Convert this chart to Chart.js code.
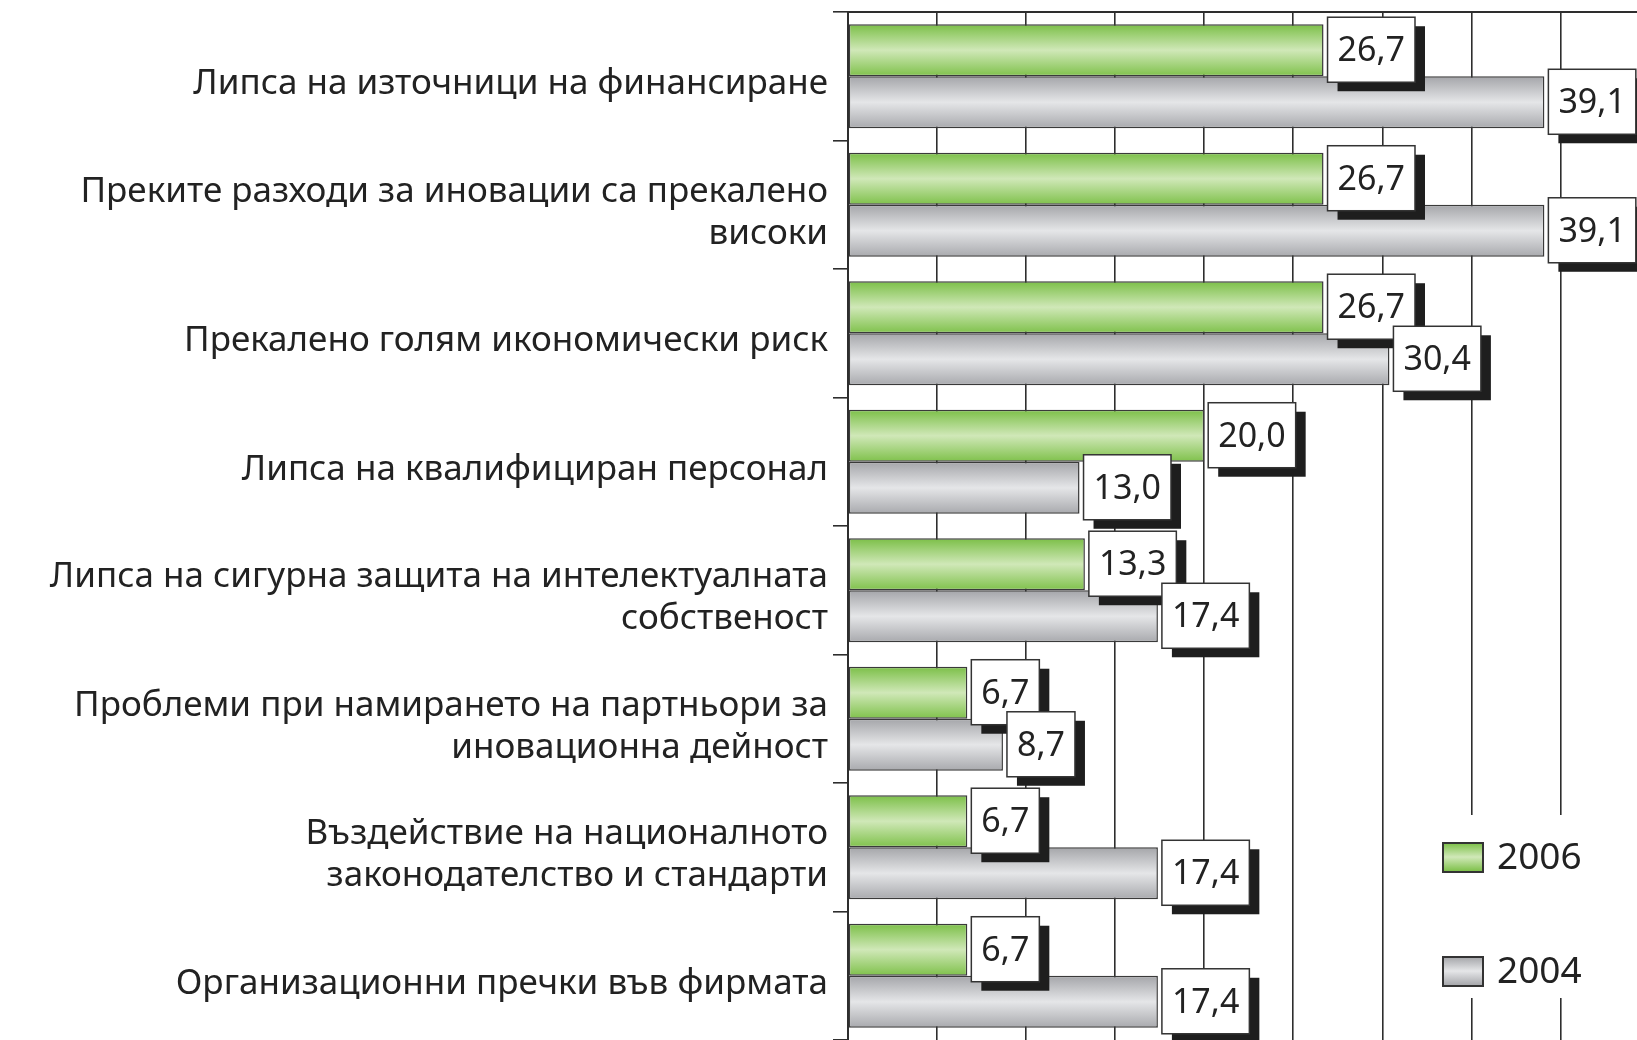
<!DOCTYPE html>
<html lang="bg">
<head>
<meta charset="utf-8">
<script src="https://cdn.jsdelivr.net/npm/chart.js@4.4.1/dist/chart.umd.min.js"></script>
<style>
  html, body { margin: 0; padding: 0; background: #fff; }
  #wrap { width: 1637px; height: 1040px; position: relative; }
</style>
</head>
<body>
<div id="wrap"><canvas id="chart" lang="bg"></canvas></div>
<script>
// Data
const categories = [
  "Липса на източници на финансиране",
  ["Преките разходи за иновации са прекалено", "високи"],
  "Прекалено голям икономически риск",
  "Липса на квалифициран персонал",
  ["Липса на сигурна защита на интелектуалната", "собственост"],
  ["Проблеми при намирането на партньори за", "иновационна дейност"],
  ["Въздействие на националното", "законодателство и стандарти"],
  "Организационни пречки във фирмата"
]
const values2006 = [26.7, 26.7, 26.7, 20.0, 13.3, 6.7, 6.7, 6.7]
const values2004 = [39.1, 39.1, 30.4, 13.0, 17.4, 8.7, 17.4, 17.4]
const seriesNames = ["2006", "2004"]
const gridTicks = [0, 5, 10, 15, 20, 25, 30, 35, 40]

const FONT = "'Noto Sans', 'Open Sans', sans-serif"
const CAT_PCT = 0.81
const GREEN = ["#7bbf47", "#d0e8b8", "#7fc14b"]
const GREY = ["#a4a5a9", "#e5e6e8", "#a8a9ad"]

// vertical gradient for one bar, placed from the category scale
function barFill(c, stops) {
  const chart = c.chart
  const ys = chart.scales.y
  if (!ys || c.dataIndex == null || !isFinite(ys.top)) return stops[1]
  const n = chart.data.labels.length
  const catSize = (ys.bottom - ys.top) / n * CAT_PCT
  const barH = catSize / 2
  const top = ys.getPixelForValue(c.dataIndex) - catSize / 2 + c.datasetIndex * barH
  const g = chart.ctx.createLinearGradient(0, top, 0, top + barH)
  g.addColorStop(0, stops[0])
  g.addColorStop(0.5, stops[1])
  g.addColorStop(1, stops[2])
  return g
}

function fmt(v) {
  return v.toFixed(1).replace(".", ",")
}

// white boxes with black drop shadow next to each bar
const valueBoxes = {
  id: "valueBoxes",
  afterDatasetsDraw(chart) {
    const ctx = chart.ctx
    ctx.save()
    ctx.font = "34px " + FONT
    ctx.textAlign = "center"
    ctx.textBaseline = "middle"
    const n = chart.data.labels.length
    for (let i = 0; i < n; i++) {
      chart.data.datasets.forEach((ds, d) => {
        const bar = chart.getDatasetMeta(d).data[i]
        const txt = fmt(ds.data[i])
        const w = ctx.measureText(txt).width + 20
        const h = 65
        const x = bar.x + 4
        const y = bar.y - 33
        ctx.fillStyle = "#1e1e1e"
        ctx.fillRect(x + 10, y + 9, w, h)
        ctx.fillStyle = "#fff"
        ctx.fillRect(x, y, w, h)
        ctx.strokeStyle = "#333"
        ctx.lineWidth = 1.5
        ctx.strokeRect(x, y, w, h)
        ctx.fillStyle = "#222"
        ctx.fillText(txt, x + w / 2, y + h / 2 + 2)
      })
    }
    ctx.restore()
  }
}

// legend in the lower right corner of the plot
const cornerLegend = {
  id: "cornerLegend",
  afterDraw(chart) {
    const ctx = chart.ctx
    ctx.save()
    ctx.fillStyle = "#fff"
    ctx.fillRect(1412, 815, 225, 183)
    const rows = [{ y: 857, stops: GREEN }, { y: 971, stops: GREY }]
    ctx.font = "37px " + FONT
    ctx.textBaseline = "middle"
    chart.data.datasets.forEach((ds, d) => {
      const r = rows[d]
      const g = ctx.createLinearGradient(0, r.y - 14, 0, r.y + 14)
      g.addColorStop(0, r.stops[0])
      g.addColorStop(0.5, r.stops[1])
      g.addColorStop(1, r.stops[2])
      ctx.fillStyle = g
      ctx.fillRect(1443, r.y - 14, 40, 29)
      ctx.strokeStyle = "#333"
      ctx.lineWidth = 2
      ctx.strokeRect(1443, r.y - 14, 40, 29)
      ctx.fillStyle = "#222"
      ctx.fillText(ds.label, 1497, r.y + 1)
    })
    ctx.restore()
  }
}

new Chart(document.getElementById("chart"), {
  type: "bar",
  data: {
    labels: categories,
    datasets: [
      {
        label: seriesNames[0],
        data: values2006,
        backgroundColor: (c) => barFill(c, GREEN),
        borderColor: "#3a3a3a",
        borderWidth: 1.5,
        borderSkipped: false
      },
      {
        label: seriesNames[1],
        data: values2004,
        backgroundColor: (c) => barFill(c, GREY),
        borderColor: "#3a3a3a",
        borderWidth: 1.5,
        borderSkipped: false
      }
    ]
  },
  options: {
    indexAxis: "y",
    responsive: true,
    maintainAspectRatio: false,
    animation: false,
    datasets: { bar: { barPercentage: 1.0, categoryPercentage: CAT_PCT } },
    layout: { padding: { top: 12, right: 0, bottom: 0, left: 0 } },
    plugins: {
      legend: { display: false },
      tooltip: { enabled: false }
    },
    scales: {
      x: {
        position: "top",
        min: 0,
        max: 44.3,
        afterBuildTicks: (scale) => {
          scale.ticks = gridTicks.map((v) => ({ value: v }))
        },
        afterFit: (scale) => { scale.height = 0 },
        ticks: { display: false },
        grid: { color: "#2e2e2e", lineWidth: 1.6, drawTicks: false },
        border: { display: true, color: "#2e2e2e", width: 2 }
      },
      y: {
        afterFit: (scale) => {
          scale.width = 848
          scale.paddingTop = 0
          scale.paddingBottom = 0
        },
        ticks: {
          color: "#222",
          font: { family: FONT, size: 35 },
          padding: 5,
          labelOffset: 8,
          autoSkip: false
        },
        grid: {
          offset: true,
          drawOnChartArea: false,
          tickLength: 15,
          color: "#2e2e2e",
          lineWidth: 1.6
        },
        border: { display: true, color: "#2e2e2e", width: 2 }
      }
    }
  },
  plugins: [valueBoxes, cornerLegend]
})
</script>
</body>
</html>
